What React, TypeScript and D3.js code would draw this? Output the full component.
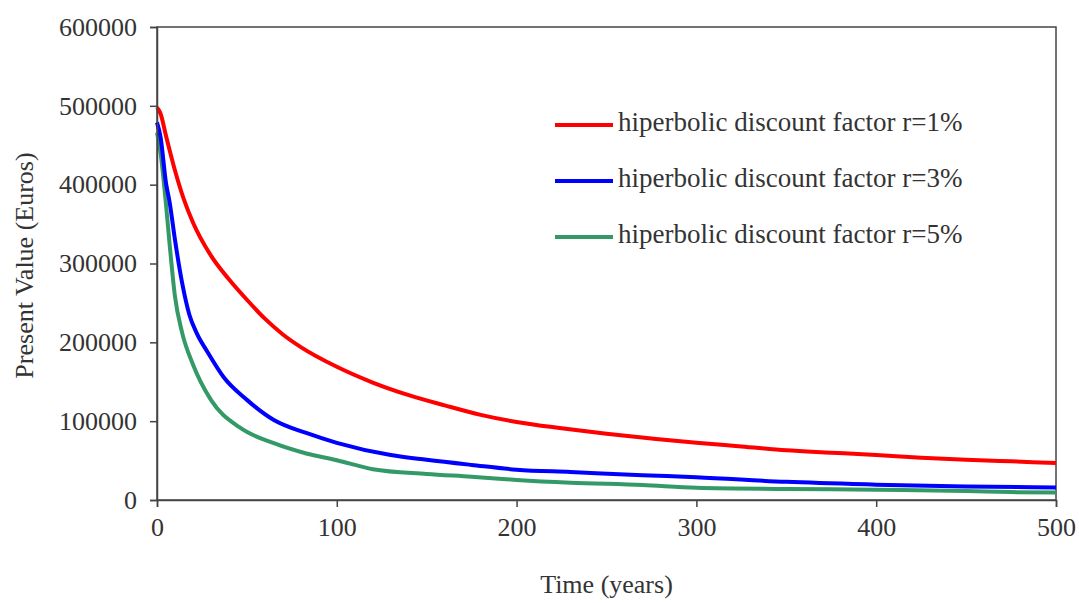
import React, { useRef, useEffect } from 'react';
import * as d3 from 'd3';

// values (time in years, present value in euros)
const years1 = [0, 2, 5, 10, 15, 20, 30, 40, 50, 60, 70, 80, 100, 120, 140, 160, 180, 200, 225, 250, 275, 300, 325, 350, 375, 400, 425, 450, 475, 500];
const values1 = [498000, 490000, 462000, 418000, 381000, 352000, 310000, 280000, 254000, 230000, 210000, 194000, 169000, 149000, 133000, 120000, 108000, 99000, 91000, 84000, 78000, 72500, 68000, 63000, 60000, 57000, 53500, 51000, 49000, 47000];

const years3 = [0, 2, 5, 7, 10, 14, 18, 22, 28, 37, 50, 65, 83, 100, 130, 150, 175, 200, 230, 270, 300, 350, 400, 450, 500];
const values3 = [479000, 460000, 402000, 378000, 330000, 275000, 235000, 212000, 188000, 156000, 127000, 101500, 85000, 72500, 57000, 51000, 44500, 38500, 35500, 31500, 29000, 23000, 19500, 17000, 16000];

const years5 = [0, 2, 5, 7, 10, 14, 20, 30, 46, 65, 83, 100, 120, 150, 175, 200, 230, 270, 300, 350, 400, 450, 475, 500];
const values5 = [466000, 440000, 375000, 325000, 258000, 212000, 172000, 127000, 92000, 72000, 59000, 50500, 39000, 33000, 29500, 25500, 22000, 19000, 15500, 14000, 13000, 11500, 10000, 9500];

const seriesNames = ['hiperbolic discount factor r=1%', 'hiperbolic discount factor r=3%', 'hiperbolic discount factor r=5%'];
const seriesColors = ['#ff0000', '#0000ff', '#339966'];
const xTicks = [0, 100, 200, 300, 400, 500];
const yTicks = [0, 100000, 200000, 300000, 400000, 500000, 600000];

export default function App() {
  const ref = useRef<SVGSVGElement>(null);

  useEffect(() => {
    if (!ref.current) return;
    const svg = d3.select(ref.current);
    svg.selectAll('*').remove();

    const width = 1079;
    const height = 603;
    const margin = { top: 27, right: 23, bottom: 103, left: 157 };
    const innerW = width - margin.left - margin.right;
    const innerH = height - margin.top - margin.bottom;
    const font = '"Liberation Serif", "Times New Roman", serif';
    const fs = 26;

    const x = d3.scaleLinear().domain([0, 500]).range([0, innerW]);
    const y = d3.scaleLinear().domain([0, 600000]).range([innerH, 0]);

    svg.append('rect').attr('width', width).attr('height', height).attr('fill', '#fff');
    const g = svg.append('g').attr('transform', `translate(${margin.left},${margin.top})`);

    // frame
    g.append('rect')
      .attr('width', innerW).attr('height', innerH)
      .attr('fill', 'none').attr('stroke', '#444').attr('stroke-width', 1.5);

    // lines
    const series = [
      years1.map((t, i) => [t, values1[i]]),
      years3.map((t, i) => [t, values3[i]]),
      years5.map((t, i) => [t, values5[i]]),
    ];
    const line = d3.line<number[]>()
      .x((d) => x(d[0]))
      .y((d) => y(d[1]))
      .curve(d3.curveMonotoneX);

    series.slice().reverse().forEach((s, i) => {
      g.append('path')
        .attr('d', line(s))
        .attr('fill', 'none')
        .attr('stroke', seriesColors[2 - i])
        .attr('stroke-width', 4)
        .attr('stroke-linejoin', 'round');
    });

    // axes
    const xAxis = g.append('g').attr('transform', `translate(0,${innerH})`)
      .call(d3.axisBottom(x).tickValues(xTicks).tickSize(7).tickPadding(11).tickFormat(d3.format('d')));
    const yAxis = g.append('g')
      .call(d3.axisLeft(y).tickValues(yTicks).tickSize(7).tickPadding(13).tickFormat(d3.format('d')));
    [xAxis, yAxis].forEach((a) => {
      a.select('.domain').attr('stroke', '#444').attr('stroke-width', 1.5);
      a.selectAll('.tick line').attr('stroke', '#444').attr('stroke-width', 1.5);
      a.selectAll('.tick text')
        .attr('font-family', font).attr('font-size', fs).attr('fill', '#333');
    });

    // axis titles
    svg.append('text')
      .attr('x', margin.left + x(250)).attr('y', 593)
      .attr('text-anchor', 'middle')
      .attr('font-family', font).attr('font-size', fs).attr('fill', '#333')
      .text('Time (years)');
    svg.append('text')
      .attr('transform', `translate(27,${margin.top + innerH / 2 + 2}) rotate(-90)`)
      .attr('text-anchor', 'middle')
      .attr('dominant-baseline', 'middle')
      .attr('font-family', font).attr('font-size', fs).attr('fill', '#333')
      .text('Present Value (Euros)');

    // legend
    const legend = svg.append('g').attr('transform', 'translate(555,125)');
    seriesNames.forEach((name, i) => {
      const row = legend.append('g').attr('transform', `translate(0,${i * 56})`);
      row.append('line')
        .attr('x1', 0).attr('x2', 58)
        .attr('stroke', seriesColors[i]).attr('stroke-width', 4);
      row.append('text')
        .attr('x', 63).attr('y', 0)
        .attr('dominant-baseline', 'middle')
        .attr('font-family', font).attr('font-size', 27).attr('fill', '#333')
        .text(name);
    });
  }, []);

  return (
    <svg ref={ref} width={1079} height={603} style={{ position: 'absolute', left: 0, top: 0 }} />
  );
}
